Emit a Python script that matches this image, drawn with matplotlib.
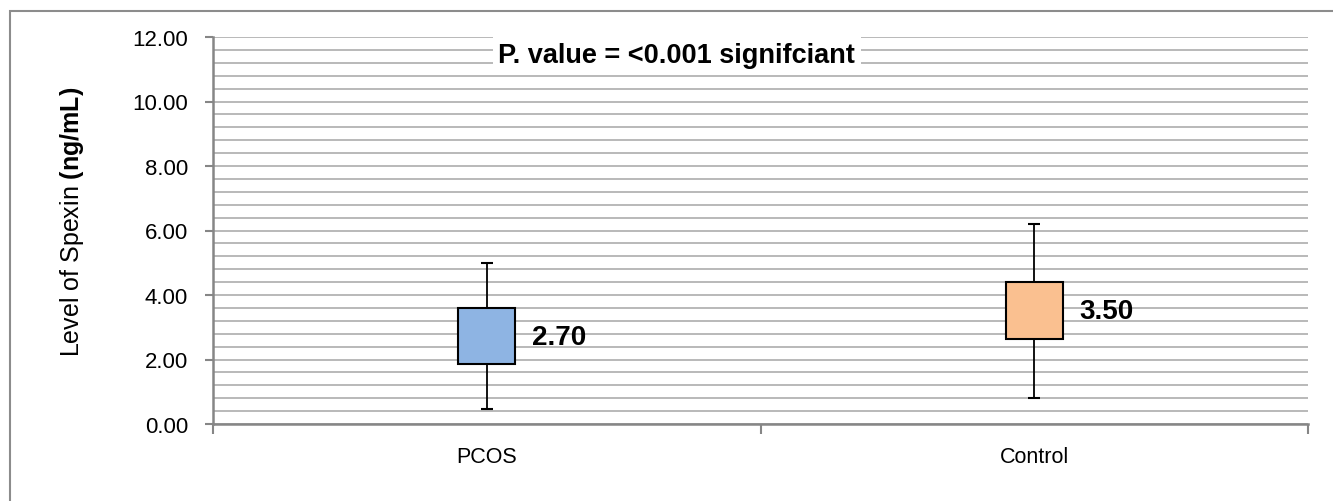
import matplotlib.pyplot as plt
from matplotlib.ticker import MultipleLocator, FixedLocator
from matplotlib.patches import Rectangle

plt.rcParams['font.family'] = ['Liberation Sans', 'DejaVu Sans']
plt.rcParams['mathtext.fontset'] = 'custom'
plt.rcParams['mathtext.rm'] = 'Liberation Sans'
plt.rcParams['mathtext.bf'] = 'Liberation Sans:bold'

# Datos
groups = ['PCOS', 'Control']
whisker_low = [0.45, 0.80]
box_low = [1.85, 2.65]
box_high = [3.60, 4.40]
whisker_high = [5.00, 6.20]
medians = [2.70, 3.50]
box_colors = ['#8EB4E3', '#FAC090']

fig = plt.figure(figsize=(13.33, 5.02), dpi=100)
ax = fig.add_axes([213 / 1333, 1 - 425 / 502, 1095 / 1333, 387 / 502])

grid_c = '#b3b3b3'
axis_c = '#868686'

# marco exterior
fig.patches.append(Rectangle((10 / 1333, -0.1), 1.2, 1 - 12 / 502 + 0.1,
                             transform=fig.transFigure, fill=False,
                             edgecolor='#8c8c8c', lw=1.5))

x = list(range(len(groups)))
box_w = 0.104
cap_w = 0.022

# cajas
ax.bar(x, [h - l for h, l in zip(box_high, box_low)], bottom=box_low,
       width=box_w, color=box_colors, edgecolor='black', linewidth=1.5, zorder=3)

# bigotes
ax.vlines(x, whisker_low, box_low, color='black', lw=1.3, zorder=3)
ax.vlines(x, box_high, whisker_high, color='black', lw=1.3, zorder=3)
ax.hlines(whisker_low, [i - cap_w / 2 for i in x], [i + cap_w / 2 for i in x],
          color='black', lw=1.5, zorder=3)
ax.hlines(whisker_high, [i - cap_w / 2 for i in x], [i + cap_w / 2 for i in x],
          color='black', lw=1.5, zorder=3)

# etiquetas de la mediana
for i, m in zip(x, medians):
    ax.text(i + box_w / 2 + 0.03, m, f'{m:.2f}', fontsize=20, fontweight='bold',
            va='center', ha='left', zorder=4)

ax.set_xlim(-0.5, 1.5)
ax.set_ylim(0, 12)
ax.yaxis.set_major_locator(MultipleLocator(2))
ax.yaxis.set_minor_locator(MultipleLocator(0.4))
ax.yaxis.set_major_formatter(lambda v, p: f'{v:.2f}')
ax.grid(True, which='both', axis='y', color=grid_c, lw=1.3, zorder=0)
ax.set_axisbelow(True)

ax.xaxis.set_major_locator(FixedLocator([-0.5, 0.5, 1.5]))
ax.xaxis.set_minor_locator(FixedLocator(x))
ax.set_xticklabels([])
ax.set_xticklabels(groups, minor=True)
ax.tick_params(axis='x', which='major', length=7, width=1.5, color=axis_c, direction='out')
ax.tick_params(axis='x', which='minor', length=0, labelsize=15.5, pad=16)
ax.tick_params(axis='y', which='major', length=6, width=1.5, color=axis_c,
               labelsize=16, pad=12)
ax.tick_params(axis='y', which='minor', length=0)

for s in ['top', 'right']:
    ax.spines[s].set_visible(False)
for s in ['left', 'bottom']:
    ax.spines[s].set_color(axis_c)
    ax.spines[s].set_linewidth(1.8)

fig.text(72 / 1333, 1 - 222 / 502, r'Level of Spexin $\mathbf{(ng/mL)}$',
         rotation=90, fontsize=18, ha='center', va='center')

ax.text(0.347, 11.85, 'P. value = <0.001 signifciant',
        fontsize=19.5, fontweight='bold', ha='center', va='top', zorder=5,
        bbox=dict(facecolor='white', edgecolor='none', pad=4))

fig.savefig('out.png', dpi=100)
